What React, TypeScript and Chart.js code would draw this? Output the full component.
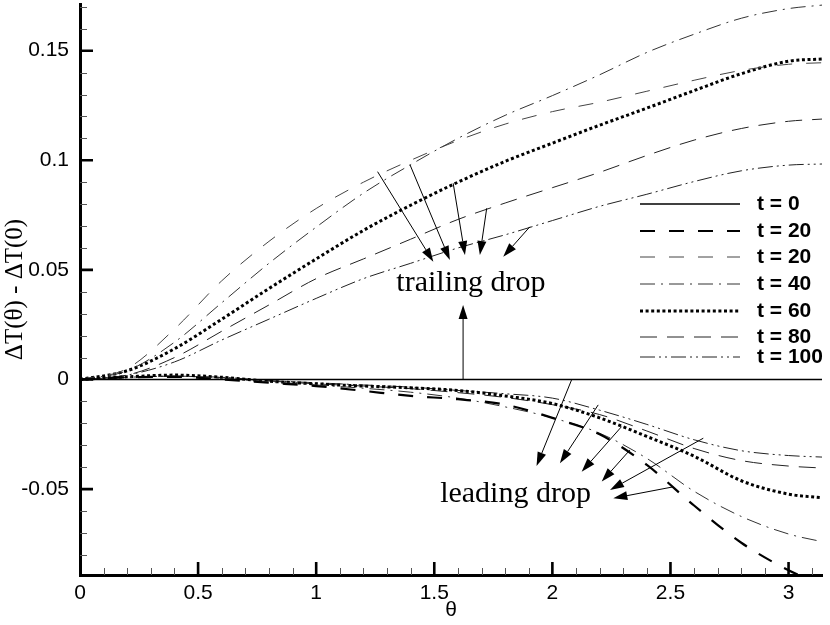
import React, { useEffect, useRef } from 'react';
import { Chart, registerables } from 'chart.js';

Chart.register(...registerables);

// ---------------- data ----------------
const THETA = [0, 0.2, 0.4, 0.6, 0.8, 1.0, 1.2, 1.4, 1.6, 1.8, 2.0, 2.2, 2.4, 2.6, 2.8, 3.0, 3.1416];

const T0 = [0, 0, 0, 0, 0, 0, 0, 0, 0, 0, 0, 0, 0, 0, 0, 0, 0];
const T20_LEAD = [0, 0.001, 0.0012, 0.0, -0.0015, -0.003, -0.0052, -0.0075, -0.009, -0.0115, -0.0175, -0.025, -0.039, -0.0575, -0.0745, -0.087, -0.0935];
const T20_TRAIL = [0, 0.005, 0.023, 0.045, 0.063, 0.078, 0.09, 0.1, 0.109, 0.1165, 0.1222, 0.1265, 0.1315, 0.1365, 0.141, 0.1438, 0.1445];
const T40_TRAIL = [0, 0.004, 0.017, 0.035, 0.053, 0.0695, 0.085, 0.098, 0.11, 0.1205, 0.1295, 0.139, 0.1492, 0.1575, 0.1648, 0.1692, 0.1708];
const T40_LEAD = [0, 0.001, 0.0015, 0.0005, -0.001, -0.0025, -0.004, -0.0058, -0.0085, -0.0125, -0.0175, -0.0245, -0.036, -0.051, -0.0625, -0.0705, -0.074];
const T60_TRAIL = [0, 0.004, 0.014, 0.0275, 0.0415, 0.055, 0.068, 0.0795, 0.09, 0.0995, 0.1078, 0.116, 0.1238, 0.1318, 0.1395, 0.1452, 0.1462];
const T60_LEAD = [0, 0.0012, 0.002, 0.001, -0.0008, -0.002, -0.003, -0.0038, -0.005, -0.0075, -0.011, -0.0175, -0.026, -0.035, -0.0462, -0.0523, -0.054];
const T80_TRAIL = [0, 0.002, 0.01, 0.022, 0.034, 0.046, 0.055, 0.064, 0.073, 0.0805, 0.0875, 0.0945, 0.1022, 0.1092, 0.1145, 0.1178, 0.1188];
const T80_LEAD = [0, 0.001, 0.0015, 0.0008, -0.0007, -0.002, -0.003, -0.0042, -0.006, -0.0082, -0.0115, -0.016, -0.0235, -0.0315, -0.037, -0.0395, -0.0404];
const T100_TRAIL = [0, 0.002, 0.008, 0.018, 0.0275, 0.037, 0.046, 0.053, 0.06, 0.066, 0.0725, 0.079, 0.0845, 0.0903, 0.0952, 0.0978, 0.0983];
const T100_LEAD = [0, 0.001, 0.0015, 0.001, -0.0005, -0.0015, -0.0025, -0.0035, -0.005, -0.0065, -0.0085, -0.014, -0.0205, -0.0275, -0.0325, -0.0347, -0.0354];

const X_TICKS = [0, 0.5, 1, 1.5, 2, 2.5, 3];
const X_TICK_LABELS = ['0', '0.5', '1', '1.5', '2', '2.5', '3'];
const Y_TICKS = [-0.05, 0, 0.05, 0.1, 0.15];
const Y_TICK_LABELS = ['-0.05', '0', '0.05', '0.1', '0.15'];

const X_MIN = 0;
const X_MAX = 3.1416;
const Y_MIN = -0.0892;
const Y_MAX = 0.1713;

const X_TITLE = 'θ';
const Y_TITLE = 'ΔT(θ) - ΔT(0)';

// annotation arrows in data coordinates: [θ0, v0, θ1, v1]
const TRAILING_ARROWS = [
  [1.26, 0.0948, 1.496, 0.0537],
  [1.397, 0.098, 1.566, 0.0545],
  [1.58, 0.0895, 1.63, 0.0568],
  [1.722, 0.0781, 1.693, 0.0568],
  [1.905, 0.0697, 1.792, 0.056],
  [1.622, 0.0, 1.622, 0.034],
];
const LEADING_ARROWS = [
  [2.082, 0.0, 1.933, -0.0395],
  [2.194, -0.0116, 2.032, -0.0382],
  [2.293, -0.0215, 2.124, -0.0421],
  [2.328, -0.0322, 2.209, -0.0466],
  [2.639, -0.0268, 2.244, -0.0504],
  [2.511, -0.049, 2.258, -0.0542],
];
const LABELS_TEXT = ['trailing drop', 'leading drop'];
const LABELS_POS = [
  [1.655, 0.0405],
  [1.844, -0.0559],
];

// ---------------- styles ----------------
const SANS = '"Liberation Sans", Arial, Helvetica, sans-serif';
const SERIF = '"Liberation Serif", "Times New Roman", serif';

type Spec = { label: string; data: number[]; color: string; width: number; dash: number[]; legend: boolean };

const SPECS: Spec[] = [
  { label: 't = 0', data: T0, color: '#000', width: 1.6, dash: [], legend: true },
  { label: 't = 20', data: T20_LEAD, color: '#000', width: 2.2, dash: [15, 14], legend: true },
  { label: 't = 20', data: T20_TRAIL, color: '#444', width: 1, dash: [15, 14], legend: true },
  { label: 't = 40', data: T40_TRAIL, color: '#333', width: 1, dash: [15, 6, 2, 6], legend: true },
  { label: 't = 40', data: T40_LEAD, color: '#333', width: 1, dash: [15, 6, 2, 6], legend: false },
  { label: 't = 60', data: T60_TRAIL, color: '#000', width: 3, dash: [3, 2.6], legend: true },
  { label: 't = 60', data: T60_LEAD, color: '#000', width: 3, dash: [3, 2.6], legend: false },
  { label: 't = 80', data: T80_TRAIL, color: '#222', width: 1, dash: [17, 10], legend: true },
  { label: 't = 80', data: T80_LEAD, color: '#222', width: 1, dash: [17, 10], legend: false },
  { label: 't = 100', data: T100_TRAIL, color: '#222', width: 1, dash: [15, 4, 2, 4, 2, 4], legend: true },
  { label: 't = 100', data: T100_LEAD, color: '#222', width: 1, dash: [15, 4, 2, 4, 2, 4], legend: false },
];

function drawArrow(ctx: CanvasRenderingContext2D, x0: number, y0: number, x1: number, y1: number) {
  const ang = Math.atan2(y1 - y0, x1 - x0);
  const len = 14;
  const hw = 4.5;
  const bx = x1 - len * Math.cos(ang);
  const by = y1 - len * Math.sin(ang);
  ctx.beginPath();
  ctx.moveTo(x0, y0);
  ctx.lineTo(bx, by);
  ctx.stroke();
  ctx.beginPath();
  ctx.moveTo(x1, y1);
  ctx.lineTo(bx + hw * Math.sin(ang), by - hw * Math.cos(ang));
  ctx.lineTo(bx - hw * Math.sin(ang), by + hw * Math.cos(ang));
  ctx.closePath();
  ctx.fill();
}

const annotationPlugin = {
  id: 'annotations',
  afterDatasetsDraw(chart: any) {
    const { ctx, scales } = chart;
    const x = scales.x;
    const y = scales.y;
    ctx.save();
    ctx.strokeStyle = '#000';
    ctx.fillStyle = '#000';
    ctx.lineWidth = 1;
    ctx.setLineDash([]);
    [...TRAILING_ARROWS, ...LEADING_ARROWS].forEach((a) => {
      drawArrow(ctx, x.getPixelForValue(a[0]), y.getPixelForValue(a[1]), x.getPixelForValue(a[2]), y.getPixelForValue(a[3]));
    });
    ctx.font = `30px ${SERIF}`;
    ctx.textAlign = 'center';
    ctx.textBaseline = 'alphabetic';
    LABELS_TEXT.forEach((t, i) => {
      const p = LABELS_POS[i];
      ctx.fillText(t, x.getPixelForValue(p[0]), y.getPixelForValue(p[1]));
    });
    ctx.restore();
  },
};

const ticksPlugin = {
  id: 'inwardTicks',
  afterDraw(chart: any) {
    const { ctx, chartArea: a, scales } = chart;
    const x = scales.x;
    const y = scales.y;
    ctx.save();
    ctx.setLineDash([]);
    // minor ticks
    ctx.strokeStyle = '#555';
    ctx.lineWidth = 1;
    ctx.beginPath();
    for (let i = 1; i * 0.1 <= X_MAX; i++) {
      const v = i * 0.1;
      if (i % 5 === 0) continue;
      const px = Math.round(x.getPixelForValue(v)) + 0.5;
      ctx.moveTo(px, a.bottom);
      ctx.lineTo(px, a.bottom - 7);
    }
    for (let i = -8; i * 0.01 <= Y_MAX; i++) {
      if (i % 5 === 0) continue;
      const py = Math.round(y.getPixelForValue(i * 0.01)) + 0.5;
      ctx.moveTo(a.left, py);
      ctx.lineTo(a.left + 7, py);
    }
    ctx.stroke();
    // major ticks
    ctx.strokeStyle = '#000';
    ctx.lineWidth = 2.6;
    ctx.beginPath();
    X_TICKS.forEach((v) => {
      if (v === 0) return;
      const px = x.getPixelForValue(v);
      ctx.moveTo(px, a.bottom);
      ctx.lineTo(px, a.bottom - 13);
    });
    Y_TICKS.forEach((v) => {
      const py = y.getPixelForValue(v);
      ctx.moveTo(a.left, py);
      ctx.lineTo(a.left + 13, py);
    });
    ctx.stroke();
    ctx.restore();
  },
};

const LEGEND_X0 = 640;
const LEGEND_X1 = 740;
const LEGEND_TEXT_X = 757;
const LEGEND_ROWS = [204, 231, 257, 284, 311, 337, 357];

const legendPlugin = {
  id: 'insideLegend',
  afterDraw(chart: any) {
    const { ctx } = chart;
    ctx.save();
    ctx.font = `bold 21px ${SANS}`;
    ctx.textAlign = 'left';
    ctx.textBaseline = 'middle';
    let row = 0;
    chart.data.datasets.forEach((ds: any) => {
      if (!ds.showInLegend) return;
      const yy = LEGEND_ROWS[row++];
      ctx.strokeStyle = ds.borderColor;
      ctx.lineWidth = ds.borderWidth;
      ctx.setLineDash(ds.borderDash || []);
      ctx.beginPath();
      ctx.moveTo(LEGEND_X0, yy);
      ctx.lineTo(LEGEND_X1, yy);
      ctx.stroke();
      ctx.setLineDash([]);
      ctx.fillStyle = '#000';
      ctx.fillText(ds.label, LEGEND_TEXT_X, yy);
    });
    ctx.restore();
  },
};

export default function App() {
  const ref = useRef<HTMLCanvasElement | null>(null);
  useEffect(() => {
    document.body.style.margin = '0';
    const canvas = ref.current;
    if (!canvas) return;
    const datasets = SPECS.map((s) => ({
      label: s.label,
      data: THETA.map((t, i) => ({ x: t, y: s.data[i] })),
      borderColor: s.color,
      borderWidth: s.width,
      borderDash: s.dash,
      borderCapStyle: 'butt',
      cubicInterpolationMode: 'monotone',
      pointRadius: 0,
      fill: false,
      showInLegend: s.legend,
    }));
    const chart = new Chart(canvas, {
      type: 'line',
      data: { datasets } as any,
      options: {
        responsive: false,
        animation: false,
        devicePixelRatio: 1,
        layout: { padding: { top: 4, right: 8, left: 0, bottom: 0 } },
        plugins: { legend: { display: false }, tooltip: { enabled: false } },
        scales: {
          x: {
            type: 'linear',
            min: X_MIN,
            max: X_MAX,
            afterFit: (s: any) => {
              s.height = 50;
              s.paddingLeft = 0;
              s.paddingRight = 0;
            },
            afterBuildTicks: (s: any) => {
              s.ticks = X_TICKS.map((v) => ({ value: v }));
            },
            ticks: {
              autoSkip: false,
              maxRotation: 0,
              color: '#000',
              padding: 6,
              font: { family: SANS, size: 21 },
              callback: (v: any) => X_TICK_LABELS[X_TICKS.indexOf(Number(v))] ?? '',
            },
            grid: { display: true, drawOnChartArea: false, drawTicks: false },
            border: { display: true, width: 3, color: '#000' },
            title: { display: true, text: X_TITLE, color: '#000', font: { family: SANS, size: 21 }, padding: { top: 0, bottom: 2 } },
          },
          y: {
            type: 'linear',
            min: Y_MIN,
            max: Y_MAX,
            afterFit: (s: any) => {
              s.width = 80;
              s.paddingTop = 0;
              s.paddingBottom = 0;
            },
            afterBuildTicks: (s: any) => {
              s.ticks = Y_TICKS.map((v) => ({ value: v }));
            },
            ticks: {
              autoSkip: false,
              color: '#000',
              padding: 11,
              font: { family: SANS, size: 21 },
              callback: (v: any) => {
                const idx = Y_TICKS.findIndex((t) => Math.abs(t - Number(v)) < 1e-9);
                return idx >= 0 ? Y_TICK_LABELS[idx] : '';
              },
            },
            grid: { display: true, drawOnChartArea: false, drawTicks: false },
            border: { display: true, width: 3, color: '#000' },
            title: { display: true, text: Y_TITLE, color: '#000', font: { family: SERIF, size: 25 }, padding: { top: 0, bottom: 0 } },
          },
        },
      } as any,
      plugins: [annotationPlugin, ticksPlugin, legendPlugin],
    });
    return () => chart.destroy();
  }, []);
  return (
    <div style={{ width: 830, height: 625, background: '#fff' }}>
      <canvas ref={ref} width={830} height={625} style={{ display: 'block' }} />
    </div>
  );
}
